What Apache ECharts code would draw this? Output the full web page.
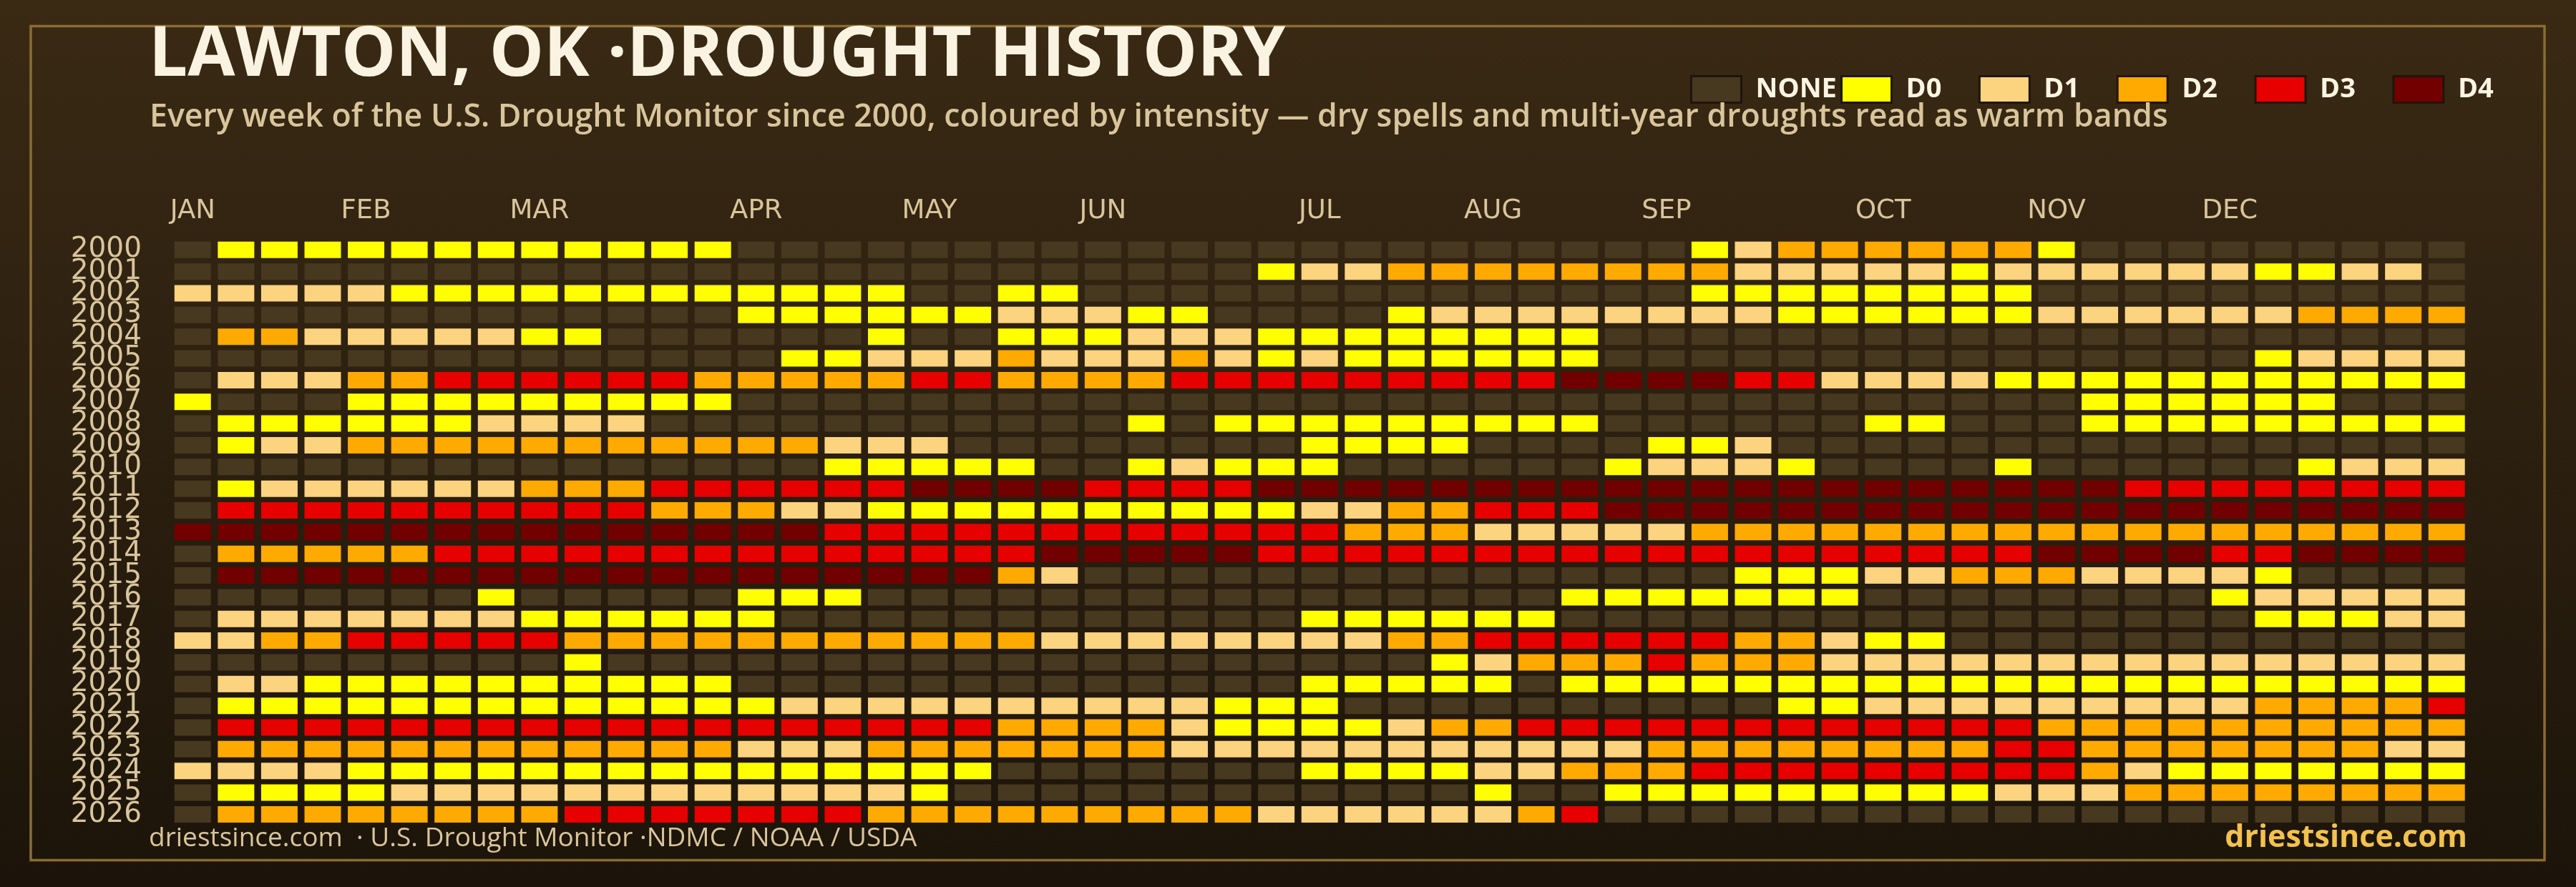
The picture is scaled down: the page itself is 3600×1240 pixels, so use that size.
<!DOCTYPE html>
<html>
<head>
<meta charset="utf-8">
<script src="https://cdn.jsdelivr.net/npm/echarts@6.0.0/dist/echarts.min.js"></script>
<style>
html,body{margin:0;padding:0;background:#2a1f10;}
#chart{width:3600px;height:1240px;}
</style>
</head>
<body>
<div id="chart"></div>
<script>
// ---- data ----
const years = ['2000','2001','2002','2003','2004','2005','2006','2007','2008','2009','2010','2011','2012','2013',
  '2014','2015','2016','2017','2018','2019','2020','2021','2022','2023','2024','2025','2026'];
const monthLabels = ['JAN','FEB','MAR','APR','MAY','JUN','JUL','AUG','SEP','OCT','NOV','DEC'];
const monthWeeks = [0,4,8,13,17,21,26,30,34,39,43,47];
const levelNames = ['NONE','D0','D1','D2','D3','D4'];
const levelCodes = '.01234';
// one string per year, 53 weekly cells ('.' none, 0-4 = D0-D4); spaces only split the text
const weekRows = [
  '.000000000000..... .................0 12222220.........',
  '.................. .......01122222222 1111101111110011.',
  '11111000000000000. .00..............0 0000000..........',
  '.............00000 011100....01111111 10000001111112222',
  '.221111100......0. .00011100000000... .................',
  '..............0011 121112101000000... ............01111',
  '.11122333333222223 322223333333334444 33111100000000000',
  '0...000000000..... .................. ........000000...',
  '.0000001111....... ....0.000000000... ...00...000000000',
  '.01122222222222111 ........0000....00 1................',
  '...............000 00..01000......011 10....0......0111',
  '.01111112223333334 444333344444444444 44444444433333333',
  '.33333333332221100 000000001122333444 44444444444444444',
  '444444444444444333 333333333222111112 22222222222222222',
  '.22222333333333333 334444433333333333 33333334444334444',
  '.44444444444444444 421............... 0001122211110....',
  '.......0.....000.. ..............0000 000........011111',
  '.1111111000000.... ........000000.... ............00011',
  '112233333222222222 221111111122333333 22100............',
  '.........0........ ...........0122232 22111111111111111',
  '.110000000000..... ........00000.0000 00000000000000000',
  '.00000000000001111 111111000......... .0011111111122223',
  '.33333333333333333 322221000012233333 33333332222222222',
  '.22222222222211122 222221111111111122 22222233222222211',
  '111100000000000000 0.......0000112223 33333333210000000',
  '.00001111111111110 ............0..000 00000011122222222',
  '.22222222333333322 222222211111123... .................'
];
const weekCount = 53;

// ---- styles ----
const levelColors = ['#473820','#ffff00','#fcd37f','#ffaa00','#e60000','#730000'];

const weeks = Array.from({length: weekCount}, (_, i) => String(i + 1));
const seriesData = levelNames.map(() => []);
weekRows.forEach((row, yi) => {
  const s = row.replace(/ /g, '');
  for (let w = 0; w < s.length; w++) {
    const lv = levelCodes.indexOf(s[w]);
    if (lv >= 0) seriesData[lv].push([w, yi]);
  }
});

const chart = echarts.init(document.getElementById('chart'), null, {renderer: 'canvas'});
const beige = '#d9c59c';
const legendBase = {
  top: 105, padding: 0, orient: 'horizontal',
  icon: 'rect', itemWidth: 70, itemHeight: 37, itemGap: 51.5,
  selectedMode: false,
  itemStyle: {borderColor: '#1e150b', borderWidth: 3},
  textStyle: {fontFamily: 'Open Sans', fontWeight: 700, fontSize: 38, color: '#fcf4e2',
    padding: [0, 0, 0, 15]}
};

chart.setOption({
  animation: false,
  backgroundColor: {type: 'linear', x: 0, y: 0, x2: 0, y2: 1,
    colorStops: [{offset: 0, color: '#3a2a14'}, {offset: 1, color: '#1c140a'}]},
  graphic: [{
    type: 'rect', z: 1, silent: true,
    shape: {x: 43, y: 36.5, width: 3513, height: 1166},
    style: {fill: null, stroke: '#8a6c33', lineWidth: 3.5}
  }],
  title: [
    {text: 'LAWTON, OK ·DROUGHT HISTORY', left: 208, top: 31, padding: 0,
     textStyle: {fontFamily: 'Open Sans', fontWeight: 700, fontSize: 96, color: '#fbf3e1'}},
    {text: 'Every week of the U.S. Drought Monitor since 2000, coloured by intensity \u2014 dry spells and multi-year droughts read as warm bands',
     left: 209, top: 142, padding: 0,
     textStyle: {fontFamily: 'Open Sans', fontWeight: 600, fontSize: 44.7, color: beige}},
    {text: 'driestsince.com  \u00b7 U.S. Drought Monitor \u00b7NDMC / NOAA / USDA',
     left: 208, top: 1154, padding: 0,
     textStyle: {fontFamily: 'Open Sans', fontWeight: 400, fontSize: 37, color: beige}},
    {text: 'driestsince.com', right: 152, top: 1150, padding: 0,
     textStyle: {fontFamily: 'Open Sans', fontWeight: 700, fontSize: 43, color: '#f2c14e'}}
  ],
  legend: [
    Object.assign({}, legendBase, {data: ['NONE'], left: 2362}),
    Object.assign({}, legendBase, {data: ['D0','D1','D2','D3','D4'], left: 2572})
  ],
  grid: {left: 239, right: 150.5, top: 334.1, bottom: 86.4, containLabel: false},
  xAxis: {
    type: 'category', data: weeks, position: 'top',
    axisLine: {show: false}, axisTick: {show: false}, splitLine: {show: false},
    axisLabel: {
      interval: (idx) => monthWeeks.indexOf(idx) >= 0,
      formatter: (val, idx) => { const k = monthWeeks.indexOf(idx); return k >= 0 ? monthLabels[k] : ''; },
      margin: 20, fontFamily: 'DejaVu Sans', fontSize: 37, color: beige
    }
  },
  yAxis: {
    type: 'category', data: years, inverse: true,
    axisLine: {show: false}, axisTick: {show: false}, splitLine: {show: false},
    axisLabel: {interval: 0, margin: 41, fontFamily: 'DejaVu Sans', fontSize: 39, color: beige}
  },
  series: levelNames.map((name, i) => ({
    type: 'scatter', name: name, symbol: 'rect', symbolSize: [51, 23],
    silent: true, itemStyle: {color: levelColors[i], opacity: 1},
    emphasis: {disabled: true},
    data: seriesData[i]
  }))
});
</script>
</body>
</html>
